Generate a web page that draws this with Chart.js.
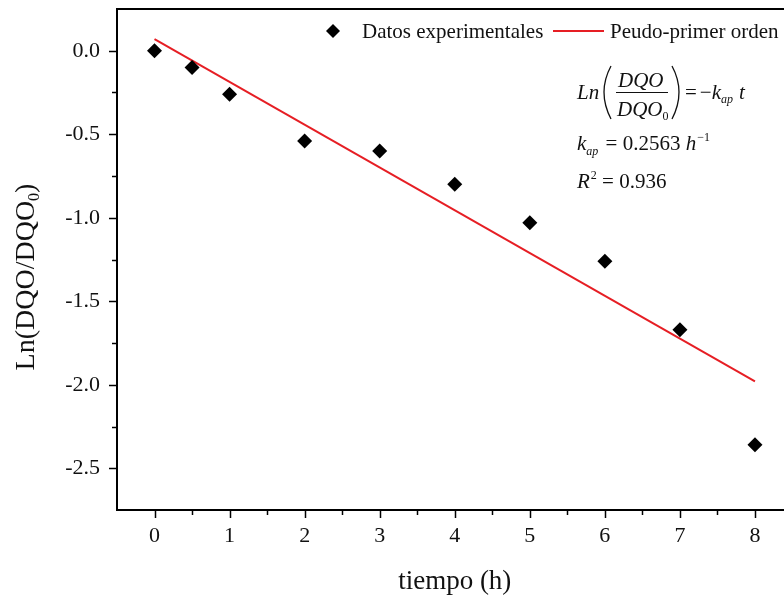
<!DOCTYPE html>
<html>
<head>
<meta charset="utf-8">
<script src="https://cdn.jsdelivr.net/npm/chart.js@4/dist/chart.umd.min.js"></script>
<style>
html,body{margin:0;padding:0;background:#fff;overflow:hidden;}
#wrap{position:relative;width:800px;height:598px;}
canvas{display:block;}
</style>
</head>
<body>
<div id="wrap"><canvas id="c" width="800" height="598"></canvas></div>
<script>
// Data
const tiempo = [0, 0.5, 1, 2, 3, 4, 5, 6, 7, 8];
const lnDQO = [0.0, -0.10, -0.26, -0.54, -0.60, -0.80, -1.03, -1.26, -1.67, -2.36];
const fitX = [0, 8];
const fitY = [0.07, -1.98];
const seriesLabels = ['Datos experimentales', 'Peudo-primer orden'];
const xTickValues = [0, 1, 2, 3, 4, 5, 6, 7, 8];
const yTickValues = [0.0, -0.5, -1.0, -1.5, -2.0, -2.5];
const xTitle = 'tiempo (h)';

const SERIF = '"Liberation Serif", "Times New Roman", serif';

const tickPlugin = {
  id: 'ticksAndText',
  afterDraw(chart) {
    const ctx = chart.ctx;
    const xs = chart.scales.x, ys = chart.scales.y;
    const ca = chart.chartArea;
    ctx.save();
    ctx.strokeStyle = '#000';
    ctx.lineWidth = 1.5;
    // x ticks (major at labelled values, minor halfway)
    for (let v = -0.5; v <= 8.5001; v += 0.5) {
      const px = Math.round(xs.getPixelForValue(v)) + 0.5;
      if (px < ca.left + 2 || px > ca.right - 1) continue;
      const major = xTickValues.includes(v);
      ctx.beginPath();
      ctx.moveTo(px, ca.bottom);
      ctx.lineTo(px, ca.bottom + (major ? 8 : 5));
      ctx.stroke();
    }
    // y ticks
    for (let v = -2.75; v <= 0.2501; v += 0.25) {
      const py = Math.round(ys.getPixelForValue(v)) + 0.5;
      if (py > ca.bottom - 2 || py < ca.top + 2) continue;
      const major = yTickValues.some(t => Math.abs(t - v) < 1e-6);
      ctx.beginPath();
      ctx.moveTo(ca.left, py);
      ctx.lineTo(ca.left - (major ? 8 : 5), py);
      ctx.stroke();
    }
    // Top border
    ctx.lineWidth = 2;
    ctx.beginPath(); ctx.moveTo(ca.left - 1, ca.top); ctx.lineTo(ca.right, ca.top); ctx.stroke();

    // Y title with subscript
    ctx.fillStyle = '#111';
    ctx.translate(27, 277);
    ctx.rotate(-Math.PI / 2);
    ctx.textBaseline = 'middle';
    const p1 = 'Ln(DQO/DQO', p3 = ')';
    ctx.font = '28px ' + SERIF;
    const w1 = ctx.measureText(p1).width;
    ctx.font = '16px ' + SERIF;
    const w2 = ctx.measureText('0').width;
    ctx.font = '28px ' + SERIF;
    const w3 = ctx.measureText(p3).width;
    let x0 = -(w1 + w2 + w3) / 2;
    ctx.fillText(p1, x0, 0);
    ctx.font = '16px ' + SERIF;
    ctx.fillText('0', x0 + w1, 8);
    ctx.font = '28px ' + SERIF;
    ctx.fillText(p3, x0 + w1 + w2, 0);
    ctx.restore();

    // Legend
    ctx.save();
    ctx.fillStyle = '#000';
    ctx.beginPath();
    ctx.moveTo(333, 24); ctx.lineTo(340, 31); ctx.lineTo(333, 38); ctx.lineTo(326, 31); ctx.closePath();
    ctx.fill();
    ctx.font = '21px ' + SERIF;
    ctx.textBaseline = 'middle';
    ctx.fillStyle = '#111';
    ctx.fillText(seriesLabels[0], 362, 32);
    ctx.strokeStyle = '#e61e24';
    ctx.lineWidth = 2;
    ctx.beginPath(); ctx.moveTo(553, 31); ctx.lineTo(604, 31); ctx.stroke();
    ctx.fillText(seriesLabels[1], 610, 32);
    ctx.restore();

    // Equation
    ctx.save();
    ctx.fillStyle = '#111';
    ctx.strokeStyle = '#111';
    ctx.textBaseline = 'alphabetic';
    const IT = 'italic 21px ' + SERIF, RM = '21px ' + SERIF, SIT = 'italic 12px ' + SERIF, SRM = '12px ' + SERIF;
    function t(str, x, y, font) { ctx.font = font; ctx.fillText(str, x, y); return x + ctx.measureText(str).width; }
    // Row 1
    let x = t('Ln', 577, 99, IT);
    ctx.lineWidth = 1.3;
    ctx.beginPath(); ctx.moveTo(611, 66); ctx.quadraticCurveTo(597, 92, 611, 119); ctx.stroke();
    t('DQO', 618, 87, IT);
    ctx.lineWidth = 1.2;
    ctx.beginPath(); ctx.moveTo(616, 92.5); ctx.lineTo(668, 92.5); ctx.stroke();
    let xd = t('DQO', 617, 116, IT);
    t('0', xd, 120, SRM);
    ctx.lineWidth = 1.3;
    ctx.beginPath(); ctx.moveTo(672, 66); ctx.quadraticCurveTo(686, 92, 672, 119); ctx.stroke();
    x = t('=', 685, 99, RM);
    x = t('\u2212', x + 3, 99, RM);
    x = t('k', x, 99, IT);
    x = t('ap', x, 103, SIT);
    t('t', x + 6, 99, IT);
    // Row 2
    x = t('k', 577, 150, IT);
    x = t('ap', x, 155, SIT);
    x = t(' = 0.2563 ', x + 2, 150, RM);
    x = t('h', x, 150, IT);
    t('\u22121', x + 1, 141, SRM);
    // Row 3
    x = t('R', 577, 188, IT);
    x = t('2', x + 1, 179, SRM);
    t(' = 0.936', x, 188, RM);
    ctx.restore();
  }
};

const ctxEl = document.getElementById('c');
new Chart(ctxEl, {
  data: {
    datasets: [
      {
        type: 'scatter',
        label: seriesLabels[0],
        data: tiempo.map((v, i) => ({ x: v, y: lnDQO[i] })),
        pointStyle: 'rectRot',
        pointRadius: 7.5,
        pointHoverRadius: 7.5,
        backgroundColor: '#000',
        borderColor: '#000',
        borderWidth: 0,
        order: 1
      },
      {
        type: 'line',
        label: seriesLabels[1],
        data: fitX.map((v, i) => ({ x: v, y: fitY[i] })),
        borderColor: '#e61e24',
        borderWidth: 2,
        pointRadius: 0,
        fill: false,
        order: 2
      }
    ]
  },
  options: {
    responsive: false,
    animation: false,
    devicePixelRatio: 1,
    layout: { padding: { top: 9, right: 7, left: 0, bottom: 0 } },
    plugins: { legend: { display: false }, tooltip: { enabled: false } },
    scales: {
      x: {
        type: 'linear',
        min: -0.5, max: 8.5,
        afterBuildTicks(s) { s.ticks = xTickValues.map(v => ({ value: v })); },
        afterFit(s) { s.height = 88; s.paddingLeft = 0; s.paddingRight = 0; },
        border: { display: true, color: '#000', width: 2 },
        grid: { display: false, drawTicks: false },
        ticks: {
          padding: 13,
          color: '#111',
          autoSkip: false,
          maxRotation: 0,
          font: { family: SERIF, size: 22 },
          callback(v) { return String(v); }
        },
        title: { display: true, text: xTitle, color: '#111', font: { family: SERIF, size: 27 }, padding: { top: 10, bottom: 0 } }
      },
      y: {
        type: 'linear',
        min: -2.75, max: 0.25,
        afterBuildTicks(s) { s.ticks = yTickValues.map(v => ({ value: v })); },
        afterFit(s) { s.width = 117; s.paddingTop = 0; s.paddingBottom = 0; },
        border: { display: true, color: '#000', width: 2 },
        grid: { display: false, drawTicks: false },
        ticks: {
          padding: 17,
          color: '#111',
          autoSkip: false,
          font: { family: SERIF, size: 22 },
          callback(v) { return v.toFixed(1); }
        }
      }
    }
  },
  plugins: [tickPlugin]
});
</script>
</body>
</html>
